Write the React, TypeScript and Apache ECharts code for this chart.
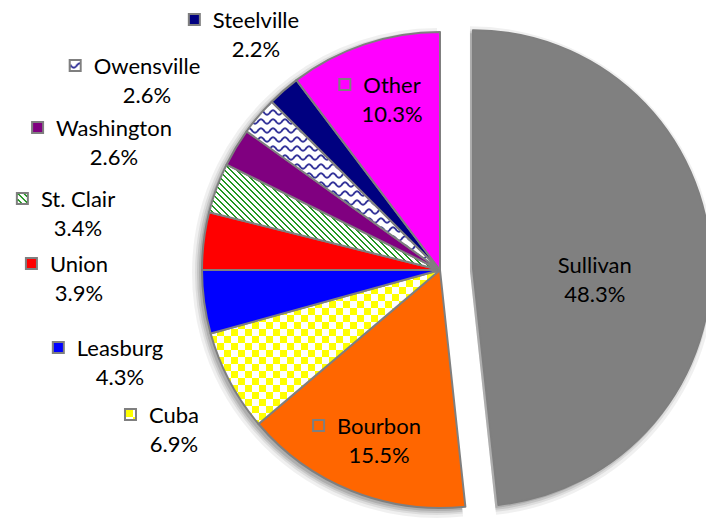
import React, { useEffect, useRef } from 'react';
import * as echarts from 'echarts';

// ---- data ----
const categories = ['Sullivan', 'Bourbon', 'Cuba', 'Leasburg', 'Union', 'St. Clair', 'Washington', 'Owensville', 'Steelville', 'Other'];
const shares = [48.3, 15.5, 6.9, 4.3, 3.9, 3.4, 2.6, 2.6, 2.2, 10.3];
const hasKey = [false, true, true, true, true, true, true, true, true, true];

// ---- styles (kept apart from the data) ----
const fills: string[] = ['#808080', '#FF6600', 'checker', '#0000FF', '#FF0000', 'stripes', '#800080', 'waves', '#000080', '#FF00FF'];
// hand-placed label anchors (centre of name text, middle of the two-line block);
// Sullivan's label stays at the library's own "inside" spot
const labelSpots: Record<string, [number, number]> = {
  Bourbon: [379, 440],
  Cuba: [174, 429],
  Leasburg: [120, 362],
  Union: [79, 278],
  'St. Clair': [78, 213],
  Washington: [114, 142],
  Owensville: [147, 80],
  Steelville: [256, 34],
  Other: [392, 99],
};
// soft drop-shadow faked with stacked translucent pies
const shadowRings = [
  { radius: 238, alpha: 0.12 },
  { radius: 240, alpha: 0.1 },
  { radius: 242, alpha: 0.08 },
  { radius: 245, alpha: 0.06 },
];

function makeCanvas(w: number, h: number, draw: (ctx: CanvasRenderingContext2D) => void) {
  const c = document.createElement('canvas');
  c.width = w;
  c.height = h;
  const ctx = c.getContext('2d') as CanvasRenderingContext2D;
  draw(ctx);
  return c;
}

function buildTiles() {
  const checker = makeCanvas(14, 14, (ctx) => {
    ctx.fillStyle = '#ffffff';
    ctx.fillRect(0, 0, 14, 14);
    ctx.fillStyle = '#FFFF00';
    ctx.fillRect(0, 0, 7, 7);
    ctx.fillRect(7, 7, 7, 7);
  });
  const stripes = makeCanvas(6, 6, (ctx) => {
    const img = ctx.createImageData(6, 6);
    for (let j = 0; j < 6; j++) {
      for (let i = 0; i < 6; i++) {
        const k = (((i - j) % 6) + 6) % 6;
        const o = (j * 6 + i) * 4;
        const green = k < 2;
        img.data[o] = green ? 34 : 255;
        img.data[o + 1] = green ? 150 : 255;
        img.data[o + 2] = green ? 34 : 255;
        img.data[o + 3] = 255;
      }
    }
    ctx.putImageData(img, 0, 0);
  });
  const waves = makeCanvas(12, 9, (ctx) => {
    ctx.fillStyle = '#ffffff';
    ctx.fillRect(0, 0, 12, 9);
    ctx.strokeStyle = '#34349a';
    ctx.lineWidth = 1.9;
    ctx.beginPath();
    for (let x = -1; x <= 13; x += 0.5) {
      const y = 4.5 + 2.2 * Math.sin((2 * Math.PI * x) / 12);
      if (x === -1) ctx.moveTo(x, y);
      else ctx.lineTo(x, y);
    }
    ctx.stroke();
  });
  return { checker, stripes, waves } as Record<string, HTMLCanvasElement>;
}

export default function App() {
  const ref = useRef<HTMLDivElement>(null);

  useEffect(() => {
    document.body.style.margin = '0';
    if (!ref.current) return;
    const chart = echarts.init(ref.current, undefined, { renderer: 'svg' });
    const tiles = buildTiles();

    const fillFor = (i: number): any => {
      const f = fills[i];
      const t = tiles[f];
      if (t) return { image: t, repeat: 'repeat', imageWidth: t.width, imageHeight: t.height };
      return f;
    };

    const iconFor = (i: number) =>
      makeCanvas(13, 13, (ctx) => {
        ctx.fillStyle = '#7f7f7f';
        ctx.fillRect(0, 0, 13, 13);
        const f = fills[i];
        const t = tiles[f];
        if (t) {
          ctx.fillStyle = '#ffffff';
          ctx.fillRect(2, 2, 9, 9);
          ctx.save();
          ctx.translate(2, 2);
          ctx.fillStyle = ctx.createPattern(t, 'repeat') as CanvasPattern;
          ctx.fillRect(0, 0, 9, 9);
          ctx.restore();
        } else {
          ctx.fillStyle = f;
          ctx.fillRect(2, 2, 9, 9);
        }
      });

    const font = 'Lato, Carlito, Calibri, sans-serif';
    const fontSize = 22;
    const lh = 29;
    const rich: Record<string, any> = {
      name: { fontFamily: font, fontSize, lineHeight: lh, color: '#000', align: 'center' },
      pct: { fontFamily: font, fontSize, lineHeight: lh, color: '#000', align: 'center' },
      gap: { width: 12, lineHeight: lh, align: 'center' },
      sp: { width: 25, lineHeight: lh, align: 'center' },
    };
    categories.forEach((_, i) => {
      rich['ic' + i] = {
        width: 13,
        height: 13,
        lineHeight: lh,
        align: 'center',
        verticalAlign: 'middle',
        backgroundColor: { image: iconFor(i) },
      };
    });

    const formatter = (p: any) => {
      const i = p.dataIndex;
      const pct = `{pct|${shares[i].toFixed(1)}%}`;
      if (!hasKey[i]) return `{name|${p.name}}\n${pct}`;
      return `{ic${i}|}{gap|}{name|${p.name}}{sp|}\n${pct}`;
    };

    const common = {
      type: 'pie',
      center: [440, 270],
      radius: 238,
      startAngle: 90,
      clockwise: true,
      selectedMode: 'single',
      selectedOffset: 33,
      avoidLabelOverlap: false,
      emphasis: { disabled: true },
      labelLine: { show: false },
    };

    const shadowSeries = shadowRings.map((ring, k) => {
      const st = { color: `rgba(0,0,0,${ring.alpha})`, borderWidth: 0 };
      return {
        ...common,
        center: [437, 273],
        radius: ring.radius,
        z: 1,
        zlevel: 0,
        silent: true,
        label: { show: false },
        itemStyle: st,
        select: { itemStyle: st },
        data: categories.map((name, i) => ({ name, value: shares[i], selected: i === 0 })),
        id: 'shadow' + k,
      };
    });

    chart.setOption({
      animation: false,
      series: [
        ...shadowSeries,
        {
          ...common,
          z: 2,
          itemStyle: { borderColor: '#7f7f7f', borderWidth: 2 },
          select: { itemStyle: { borderColor: '#7f7f7f', borderWidth: 2 } },
          label: { show: true, position: 'outside', formatter, rich, color: '#000' },
          labelLayout: (params: any) => {
            const spot = labelSpots[categories[params.dataIndex]];
            if (!spot) return {};
            return { x: spot[0], y: spot[1], align: 'center', verticalAlign: 'middle' };
          },
          data: categories.map((name, i) => ({
            name,
            value: shares[i],
            selected: i === 0,
            itemStyle: { color: fillFor(i) },
            select: { itemStyle: { color: fillFor(i) } },
            label: hasKey[i] ? undefined : { position: 'inside', padding: [34, 0, 0, 0] },
          })),
        },
      ],
    });

    return () => chart.dispose();
  }, []);

  return <div ref={ref} style={{ width: 706, height: 519, position: 'absolute', left: 0, top: 0 }} />;
}
